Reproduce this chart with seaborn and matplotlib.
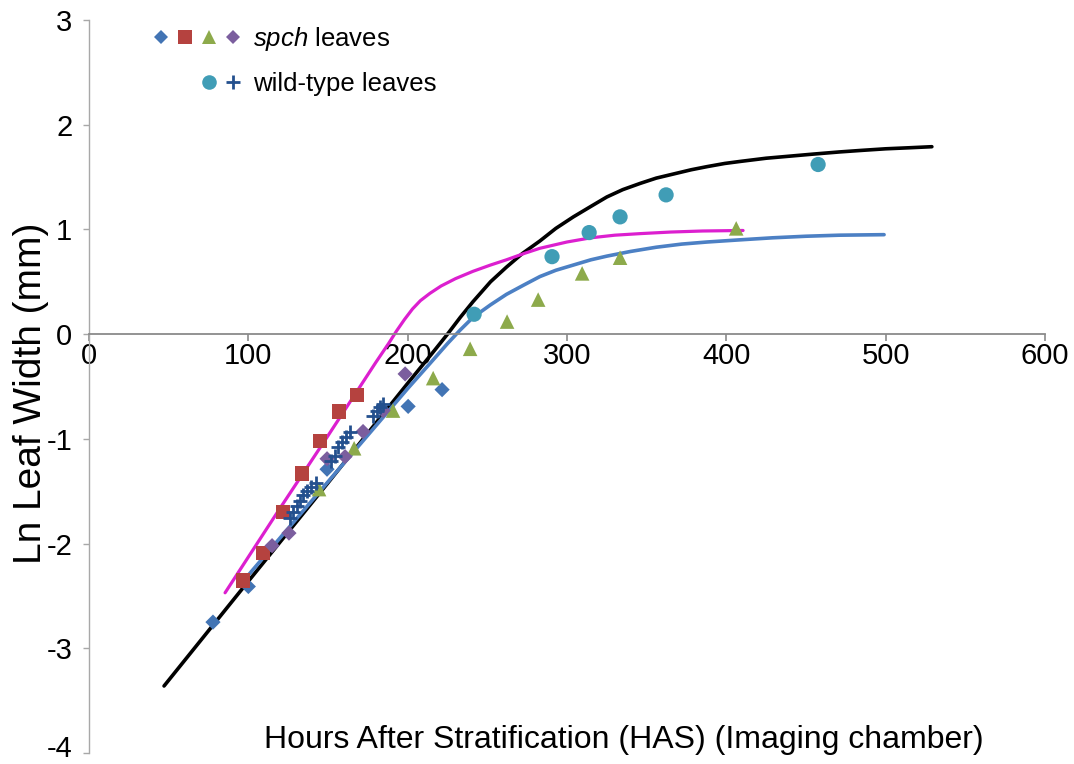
import matplotlib
matplotlib.use("Agg")
import matplotlib.pyplot as plt
import matplotlib.transforms as mtransforms
from matplotlib import font_manager
from matplotlib.legend_handler import HandlerTuple
from matplotlib.lines import Line2D
import seaborn as sns

# ---------------- data ----------------
spch1_x = [77.8, 100.0, 149.4, 200.3, 221.6]
spch1_y = [-2.75, -2.41, -1.29, -0.69, -0.53]

spch2_x = [96.7, 109.2, 121.8, 133.7, 145.0, 156.9, 168.2]
spch2_y = [-2.35, -2.09, -1.70, -1.33, -1.02, -0.74, -0.58]

spch3_x = [144.4, 166.4, 190.8, 216.0, 239.2, 262.4, 281.9, 309.5, 333.3, 406.2]
spch3_y = [-1.48, -1.09, -0.73, -0.42, -0.14, 0.12, 0.33, 0.58, 0.73, 1.01]

spch4_x = [114.9, 125.5, 149.4, 160.7, 172.0, 184.6, 198.4]
spch4_y = [-2.02, -1.90, -1.19, -1.17, -0.93, -0.73, -0.38]

wt1_x = [241.7, 290.6, 313.9, 333.3, 362.2, 457.6]
wt1_y = [0.19, 0.74, 0.97, 1.12, 1.33, 1.62]

wt2_x = [126.2, 128.1, 130.6, 132.5, 134.3, 136.8, 139.4, 142.5, 151.9, 154.4,
         156.3, 158.8, 161.3, 163.8, 178.3, 180.8, 182.7, 184.6]
wt2_y = [-1.76, -1.70, -1.64, -1.59, -1.54, -1.50, -1.46, -1.42, -1.21, -1.16,
         -1.08, -1.03, -0.98, -0.93, -0.78, -0.73, -0.70, -0.67]

black_x = [47.1, 100, 150, 200, 215, 225, 233, 241, 252, 262, 272, 283, 293, 304,
           315, 325, 335, 346, 356, 367, 378, 388, 399, 409, 425, 440, 455, 471, 485, 500, 515, 529]
black_y = [-3.36, -2.36, -1.42, -0.47, -0.19, 0.0, 0.16, 0.31, 0.50, 0.64, 0.77, 0.89, 1.01, 1.12,
           1.22, 1.31, 1.38, 1.44, 1.49, 1.53, 1.57, 1.60, 1.63, 1.65, 1.68, 1.70, 1.72, 1.74, 1.755, 1.77, 1.78, 1.79]

magenta_x = [85.4, 120, 150, 180, 188, 193, 198, 203, 208, 214, 221, 230, 241, 252, 262, 273,
             283, 300, 315, 330, 346, 365, 385, 410.5]
magenta_y = [-2.47, -1.66, -0.97, -0.27, -0.09, 0.03, 0.14, 0.24, 0.32, 0.39, 0.46, 0.53, 0.60, 0.66,
             0.71, 0.77, 0.82, 0.88, 0.92, 0.945, 0.96, 0.975, 0.985, 0.99]

blue_x = [96.7, 150, 200, 214, 225, 233, 241, 252, 262, 273, 283, 293, 304, 315, 325,
          340, 356, 372, 388, 408, 429, 450, 471, 499]
blue_y = [-2.36, -1.41, -0.52, -0.28, -0.09, 0.04, 0.16, 0.28, 0.38, 0.47, 0.55, 0.61, 0.66, 0.71, 0.745,
          0.79, 0.83, 0.86, 0.88, 0.90, 0.92, 0.935, 0.945, 0.95]

x_ticks = [0, 100, 200, 300, 400, 500, 600]
y_ticks = [-4, -3, -2, -1, 0, 1, 2, 3]

x_label = "Hours After Stratification (HAS) (Imaging chamber)"
y_label = "Ln Leaf Width (mm)"
legend_spch = "spch"
legend_spch_rest = " leaves"
legend_wt = "wild-type leaves"

# ---------------- styling ----------------
sns.set_style("white")
available = {f.name for f in font_manager.fontManager.ttflist}
main_font = "Liberation Sans Narrow" if "Liberation Sans Narrow" in available else "Liberation Sans"
plt.rcParams["font.family"] = [main_font, "DejaVu Sans"]
plt.rcParams["mathtext.fontset"] = "custom"
plt.rcParams["mathtext.it"] = main_font + ":italic"
plt.rcParams["mathtext.rm"] = main_font
for k in ["text.color", "axes.labelcolor", "xtick.labelcolor", "ytick.labelcolor"]:
    plt.rcParams[k] = "black"

c_blue = "#4274B4"
c_red = "#B5423F"
c_green = "#8DAA4B"
c_purple = "#7B5E9E"
c_teal = "#409DB6"
c_cross = "#24508E"
c_magenta = "#DC1FCF"
c_bline = "#4C80C4"

fig = plt.figure(figsize=(10.74, 7.64), dpi=100)
W, H = 1074, 764
ax = fig.add_axes([89 / W, 1 - 753 / H, (1045 - 89) / W, (753 - 20) / H])

# lines
for xs, ys, col, lw in [(black_x, black_y, "black", 2.6),
                        (magenta_x, magenta_y, c_magenta, 2.3),
                        (blue_x, blue_y, c_bline, 2.6)]:
    sns.lineplot(x=xs, y=ys, ax=ax, color=col, linewidth=lw, sort=False,
                 estimator=None, zorder=2, legend=False)

# markers
sns.scatterplot(x=spch1_x, y=spch1_y, ax=ax, marker="D", s=60, color=c_blue,
                edgecolor="none", zorder=3, legend=False)
sns.scatterplot(x=spch2_x, y=spch2_y, ax=ax, marker="s", s=110, color=c_red,
                edgecolor="none", zorder=3, legend=False)
sns.scatterplot(x=spch3_x, y=spch3_y, ax=ax, marker="^", s=110, color=c_green,
                edgecolor="none", zorder=3, legend=False)
sns.scatterplot(x=spch4_x, y=spch4_y, ax=ax, marker="D", s=60, color=c_purple,
                edgecolor="none", zorder=3, legend=False)
sns.scatterplot(x=wt1_x, y=wt1_y, ax=ax, marker="o", s=120, color=c_teal,
                edgecolor="none", zorder=3, legend=False)
sns.scatterplot(x=wt2_x, y=wt2_y, ax=ax, marker="+", s=110, color=c_cross,
                linewidth=2.0, zorder=4, legend=False)

ax.set_xlim(0, 600)
ax.set_ylim(-4, 3)
ax.set_xticks(x_ticks)
ax.set_yticks(y_ticks)
ax.set_xticklabels([str(v) for v in x_ticks])
ax.set_yticklabels([str(v) for v in y_ticks])

for s in ["top", "right"]:
    ax.spines[s].set_visible(False)
ax.spines["bottom"].set_position(("data", 0))
ax.spines["bottom"].set_color("#8A8A8A")
ax.spines["left"].set_color("#A8A8A8")
ax.spines["bottom"].set_linewidth(1.3)
ax.spines["left"].set_linewidth(1.0)
ax.tick_params(axis="x", direction="out", length=5, width=1.2, color="#8A8A8A",
               labelsize=21, pad=1, bottom=True, labelcolor="black")
ax.tick_params(axis="y", direction="out", length=4, width=1.0, color="#A8A8A8",
               labelsize=21, pad=8, left=True, labelcolor="black")
ax.grid(False)

# keep the lowest y tick label inside the canvas
lowest = ax.get_yticklabels()[0]
lowest.set_transform(lowest.get_transform() +
                     mtransforms.ScaledTranslation(0, 5 / 72, fig.dpi_scale_trans))

ax.set_xlabel(x_label, fontsize=23, va="center", ha="center", color="black")
ax.xaxis.set_label_coords((624 - 89) / 956, (753 - 740) / 733)
ax.set_ylabel(y_label, fontsize=28, va="center", ha="center", color="black")
ax.yaxis.set_label_coords((31 - 89) / 956, (753 - 393) / 733)

# legend
mk = dict(linestyle="none", markeredgewidth=0)
hd1 = Line2D([], [], marker="D", markersize=7.5, color=c_blue, **mk)
hs = Line2D([], [], marker="s", markersize=10, color=c_red, **mk)
ht = Line2D([], [], marker="^", markersize=10, color=c_green, **mk)
hd2 = Line2D([], [], marker="D", markersize=7.5, color=c_purple, **mk)
hc = Line2D([], [], marker="o", markersize=10.5, color=c_teal, **mk)
hp = Line2D([], [], marker="+", markersize=10.5, color=c_cross, linestyle="none", markeredgewidth=2)
hn = Line2D([], [], marker="", linestyle="none")
leg = ax.legend([(hd1, hs, ht, hd2), (hn, hn, hc, hp)],
                [r"$\it{" + legend_spch + "}$" + legend_spch_rest, legend_wt],
                handler_map={tuple: HandlerTuple(ndivide=None, pad=0.0)},
                loc="upper left", bbox_to_anchor=(149 / W, 1 - 25 / H),
                bbox_transform=fig.transFigure, frameon=False, fontsize=18.5,
                handlelength=3.75, handletextpad=0.3, labelspacing=0.75,
                borderpad=0, borderaxespad=0)
for t in leg.get_texts():
    t.set_color("black")

fig.savefig("out.png", dpi=100, facecolor="white")
